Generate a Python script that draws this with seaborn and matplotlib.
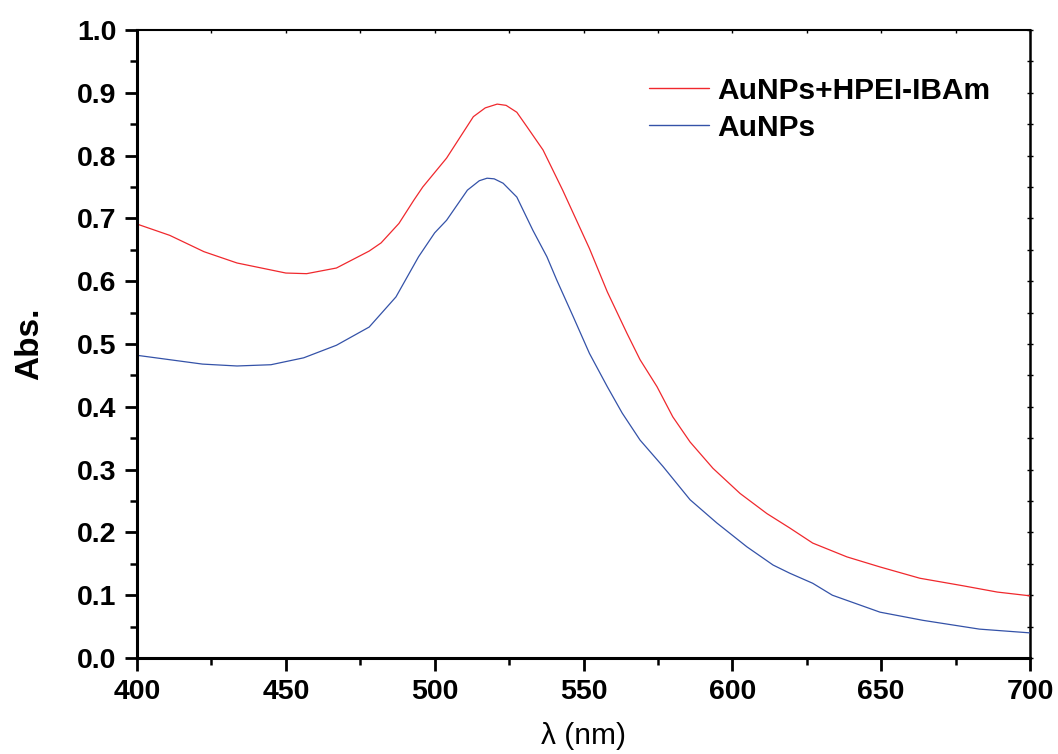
import matplotlib
matplotlib.use("Agg")
import matplotlib.pyplot as plt
import seaborn as sns
import pandas as pd
import numpy as np

# ---- data ----
wl_red = [400, 411, 422.5, 433.6, 450, 457, 467, 478, 482, 488, 493, 496, 504, 513, 517,
          521, 524, 527.6, 531, 536.4, 543, 552, 558, 564.6, 569, 574.7, 580, 585.8,
          593.5, 602.6, 611.6, 619.3, 627, 638.5, 649.6, 663, 677.5, 689, 700]
abs_red = [0.691, 0.673, 0.647, 0.629, 0.613, 0.612, 0.621, 0.648, 0.661, 0.692, 0.729, 0.750,
           0.796, 0.862, 0.876, 0.882, 0.880, 0.869, 0.846, 0.809, 0.745, 0.652, 0.583, 0.517,
           0.475, 0.432, 0.384, 0.344, 0.302, 0.262, 0.230, 0.207, 0.183, 0.161, 0.145,
           0.127, 0.115, 0.105, 0.099]

wl_blue = [400, 411, 422, 433.6, 445, 456, 467, 478, 487, 494.6, 500, 504, 511, 515, 517.6,
           520, 523, 527.6, 533, 537.7, 541, 546.5, 552, 558, 563, 569, 576.7, 585.8, 594.8,
           604.9, 613.7, 619.3, 627, 633.6, 649.6, 664, 683, 700]
abs_blue = [0.482, 0.475, 0.468, 0.465, 0.467, 0.478, 0.498, 0.527, 0.575, 0.639, 0.677, 0.697,
            0.745, 0.760, 0.764, 0.763, 0.756, 0.734, 0.681, 0.639, 0.602, 0.544, 0.485, 0.432,
            0.390, 0.347, 0.305, 0.252, 0.215, 0.177, 0.148, 0.135, 0.119, 0.100, 0.073,
            0.060, 0.046, 0.040]

labels = ["AuNPs+HPEI-IBAm", "AuNPs"]
xticks = [400, 450, 500, 550, 600, 650, 700]
yticks = [0.0, 0.1, 0.2, 0.3, 0.4, 0.5, 0.6, 0.7, 0.8, 0.9, 1.0]

df_red = pd.DataFrame({"wl": wl_red, "abs": abs_red})
df_blue = pd.DataFrame({"wl": wl_blue, "abs": abs_blue})

sns.set_style("ticks")
plt.rcParams["font.family"] = ["Liberation Sans", "DejaVu Sans"]
for k in ["text.color", "axes.labelcolor", "xtick.color", "ytick.color", "axes.edgecolor"]:
    plt.rcParams[k] = "black"

fig = plt.figure(figsize=(10.58, 7.54), dpi=100)
ax = fig.add_axes([137/1058, 1 - 658/754, (1030-137)/1058, (658-30)/754])

sns.lineplot(data=df_red, x="wl", y="abs", ax=ax, color="#f0282d", linewidth=0.9,
             label=labels[0], sort=False)
sns.lineplot(data=df_blue, x="wl", y="abs", ax=ax, color="#3452a8", linewidth=0.9,
             label=labels[1], sort=False)

ax.set_xlim(400, 700)
ax.set_ylim(0.0, 1.0)
ax.set_xticks(xticks)
ax.set_yticks(yticks)
ax.set_xticklabels([str(v) for v in xticks])
ax.set_yticklabels([f"{v:.1f}" for v in yticks])
ax.xaxis.set_minor_locator(matplotlib.ticker.MultipleLocator(25))
ax.yaxis.set_minor_locator(matplotlib.ticker.MultipleLocator(0.05))

for lab in ax.get_xticklabels() + ax.get_yticklabels():
    lab.set_fontweight("bold")
    lab.set_fontsize(20.5)

ax.tick_params(which="major", direction="out", length=9, width=2, pad=6, colors="black")
ax.tick_params(which="minor", direction="out", length=5, width=1.8, colors="black")

for s in ["left", "bottom"]:
    ax.spines[s].set_linewidth(2.2)
for s in ["top", "right"]:
    ax.spines[s].set_visible(False)

# top / right axes with small inward ticks
sx = ax.secondary_xaxis("top")
sx.set_xticks(xticks)
sx.xaxis.set_minor_locator(matplotlib.ticker.MultipleLocator(25))
sx.tick_params(which="both", direction="in", length=2, width=1, labeltop=False)
sx.spines["top"].set_linewidth(1.5)
sy = ax.secondary_yaxis("right")
sy.set_yticks(yticks)
sy.yaxis.set_minor_locator(matplotlib.ticker.MultipleLocator(0.05))
sy.tick_params(which="both", direction="inout", length=4, width=1, labelright=False)
sy.spines["right"].set_linewidth(1.8)

ax.set_xlabel("λ (nm)", fontsize=21.5, labelpad=12)
ax.set_ylabel("Abs.", fontsize=24, fontweight="bold", labelpad=23)

leg = ax.legend(loc="upper left", bbox_to_anchor=(634/1058, 1 - 62/754),
                bbox_transform=fig.transFigure, frameon=False, borderpad=0,
                handlelength=2.0, handletextpad=0.3, labelspacing=0.3,
                prop={"weight": "bold", "size": 21.5})
for line in leg.get_lines():
    line.set_linewidth(1.0)

fig.savefig("out.png", dpi=100)
